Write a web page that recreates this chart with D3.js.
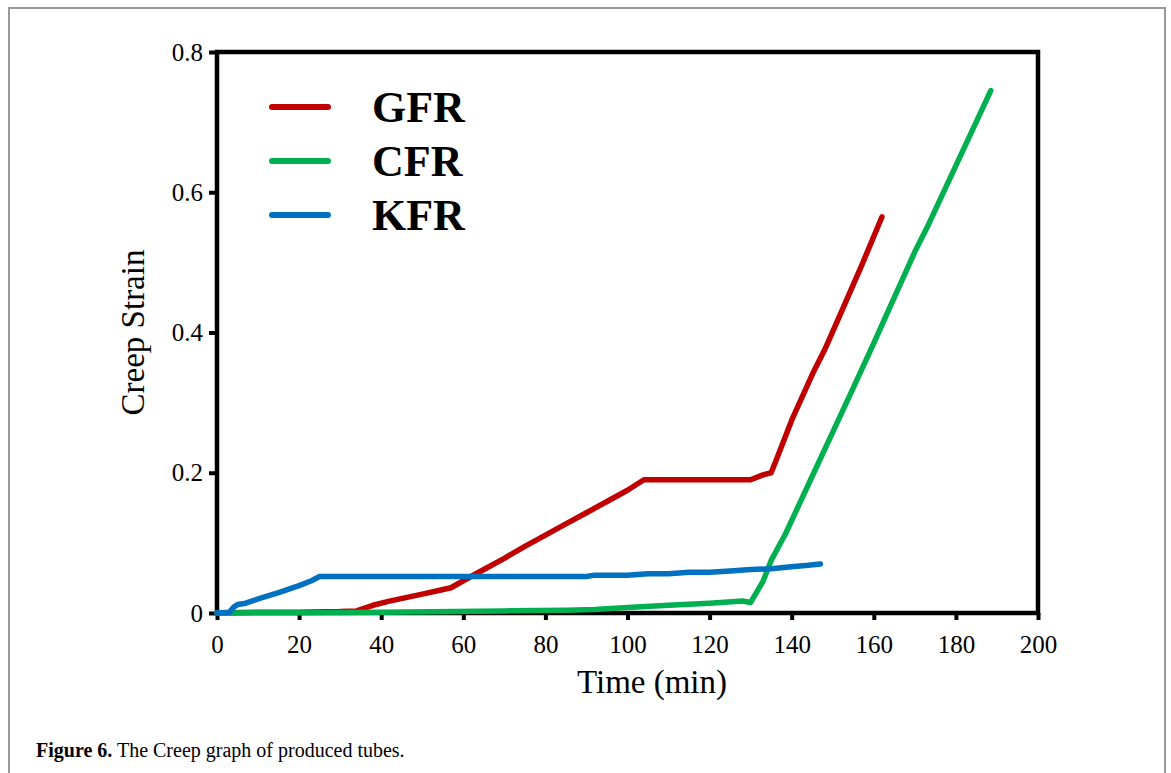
<!DOCTYPE html>
<html>
<head>
<meta charset="utf-8">
<script src="https://cdn.jsdelivr.net/npm/d3@7"></script>
<style>
  body { margin: 0; background: #fff; }
  svg { display: block; }
</style>
</head>
<body>
<script>
// series names and colours
const seriesNames = ['GFR', 'CFR', 'KFR']
const seriesColors = ['#c00000', '#00b050', '#0070c0']

// [time (min), creep strain]
const gfr = [
  [0, 0], [10, 0.001], [20, 0.001], [30, 0.002], [34, 0.003], [38, 0.011], [42, 0.017],
  [46, 0.022], [50, 0.027], [54, 0.032], [57, 0.036], [60, 0.046], [65, 0.062],
  [70, 0.078], [75, 0.095], [80, 0.111], [85, 0.127], [90, 0.143], [95, 0.159],
  [100, 0.175], [104, 0.19], [110, 0.19], [120, 0.19], [130, 0.19], [133, 0.197],
  [135, 0.2], [136.5, 0.222], [140, 0.275], [145, 0.34], [148, 0.375],
  [152, 0.428], [157, 0.495], [162, 0.565]
]
const cfr = [
  [0, 0], [20, 0.0005], [40, 0.001], [58, 0.002], [70, 0.003], [85, 0.004],
  [92, 0.005], [100, 0.008], [110, 0.011], [120, 0.014], [128, 0.017], [130, 0.015],
  [131, 0.025], [133, 0.045], [135, 0.075], [138.5, 0.113], [145, 0.195],
  [150, 0.258], [155, 0.321], [160, 0.385], [165, 0.45], [170, 0.515],
  [173, 0.55], [180, 0.638], [188.5, 0.745]
]
const kfr = [
  [0, 0], [3, 0.001], [4, 0.008], [5, 0.012], [7, 0.014], [10, 0.02], [15, 0.029],
  [20, 0.039], [23, 0.046], [25, 0.052], [40, 0.052], [60, 0.052], [80, 0.052],
  [90, 0.052], [92, 0.054], [100, 0.054], [105, 0.056], [110, 0.056], [115, 0.058],
  [120, 0.058], [125, 0.06], [130, 0.062], [135, 0.063], [140, 0.066],
  [144, 0.068], [147, 0.07]
]
const seriesData = [gfr, cfr, kfr]

const xTicks = [0, 20, 40, 60, 80, 100, 120, 140, 160, 180, 200]
const yTicks = [0, 0.2, 0.4, 0.6, 0.8]
const xTitle = 'Time (min)'
const yTitle = 'Creep Strain'

const width = 1171
const height = 773
const margin = { top: 52, left: 217, right: 133, bottom: 160 }
const serif = '"Liberation Serif", "Times New Roman", serif'

const svg = d3.select('body').append('svg')
  .attr('width', width)
  .attr('height', height)

// outer figure frame (open at the bottom)
svg.append('path')
  .attr('d', `M9,${height} V8 H1165 V${height}`)
  .attr('fill', 'none')
  .attr('stroke', '#9a9a9a')
  .attr('stroke-width', 2)

const x = d3.scaleLinear().domain([0, 200]).range([margin.left, width - margin.right])
const y = d3.scaleLinear().domain([0, 0.8]).range([height - margin.bottom, margin.top])
const y0 = y(0)

// plot box
svg.append('rect')
  .attr('x', x(0))
  .attr('y', y(0.8))
  .attr('width', x(200) - x(0))
  .attr('height', y(0) - y(0.8))
  .attr('fill', 'none')
  .attr('stroke', '#000')
  .attr('stroke-width', 4.5)

const xAxis = svg.append('g')
  .attr('transform', `translate(0, ${y0})`)
  .call(d3.axisBottom(x).tickValues(xTicks).tickSize(7).tickPadding(15).tickFormat(d3.format('d')))
xAxis.select('.domain').remove()
xAxis.selectAll('line').attr('stroke', '#000').attr('stroke-width', 4)
xAxis.selectAll('text')
  .attr('fill', '#000')
  .style('font-family', serif)
  .style('font-size', '25px')

const yAxis = svg.append('g')
  .attr('transform', `translate(${x(0)}, 0)`)
  .call(d3.axisLeft(y).tickValues(yTicks).tickSize(8).tickPadding(6).tickFormat(d => d === 0 ? '0' : d3.format('.1f')(d)))
yAxis.select('.domain').remove()
yAxis.selectAll('line').attr('stroke', '#000').attr('stroke-width', 4)
yAxis.selectAll('text')
  .attr('fill', '#000')
  .style('font-family', serif)
  .style('font-size', '25px')

// data lines
const line = d3.line()
  .x(d => x(d[0]))
  .y(d => y(d[1]))

svg.selectAll('.series')
  .data(seriesData)
  .enter()
  .append('path')
  .attr('class', 'series')
  .attr('d', line)
  .attr('fill', 'none')
  .attr('stroke', (d, i) => seriesColors[i])
  .attr('stroke-width', 5.5)
  .attr('stroke-linejoin', 'round')
  .attr('stroke-linecap', 'round')

// axis titles
svg.append('text')
  .attr('x', 652)
  .attr('y', 693)
  .attr('text-anchor', 'middle')
  .style('font-family', serif)
  .style('font-size', '33px')
  .text(xTitle)

svg.append('text')
  .attr('transform', `translate(144, ${(y(0) + y(0.8)) / 2}) rotate(-90)`)
  .attr('text-anchor', 'middle')
  .style('font-family', serif)
  .style('font-size', '33px')
  .text(yTitle)

// legend
const legend = svg.selectAll('.legend')
  .data(seriesNames)
  .enter()
  .append('g')
  .attr('class', 'legend')
  .attr('transform', (d, i) => `translate(0, ${107 + i * 54})`)

legend.append('line')
  .attr('x1', 272)
  .attr('x2', 328)
  .attr('stroke', (d, i) => seriesColors[i])
  .attr('stroke-width', 6)
  .attr('stroke-linecap', 'round')

legend.append('text')
  .attr('x', 372)
  .attr('y', 15)
  .style('font-family', serif)
  .style('font-weight', 'bold')
  .style('font-size', '44px')
  .text(d => d)

// caption
const caption = svg.append('text')
  .attr('x', 36)
  .attr('y', 757)
  .style('font-family', serif)
  .style('font-size', '20px')
caption.append('tspan').style('font-weight', 'bold').text('Figure 6.')
caption.append('tspan').text(' The Creep graph of produced tubes.')
</script>
</body>
</html>
